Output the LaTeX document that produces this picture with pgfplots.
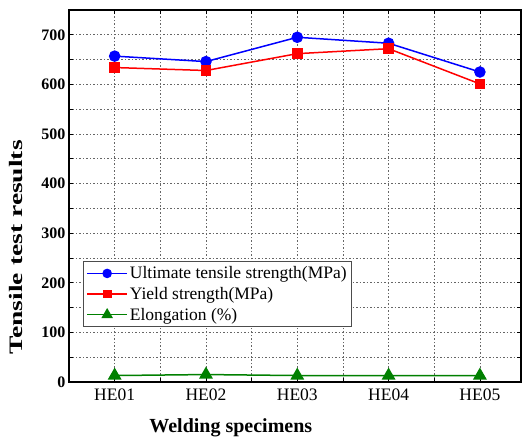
\documentclass[border=0pt]{standalone}
\usepackage{pgfplots}
\pgfplotsset{compat=1.18}
\usepackage{fontspec}
\setmainfont{Liberation Serif}
\definecolor{elgreen}{RGB}{0,128,0}
\begin{document}
\begin{tikzpicture}
\path[use as bounding box] (-69pt,-56pt) rectangle (454pt,382pt);
\begin{axis}[
  at={(0,0)}, anchor=south west,
  width=452pt, height=372pt, scale only axis,
  xmin=0.5, xmax=5.45, ymin=0, ymax=750,
  xtick={1,2,3,4,5},
  xticklabels={HE01,HE02,HE03,HE04,HE05},
  minor xtick={1.5,2.5,3.5,4.5},
  ytick={0,100,...,700},
  minor ytick={50,150,...,750},
  grid=both,
  major grid style={black!60, dash pattern=on 1.5pt off 2pt, line width=0.8pt},
  minor grid style={black!60, dash pattern=on 1.5pt off 2pt, line width=0.8pt},
  axis line style={line width=1.6pt},
  tick style={black, line width=0.8pt},
  tick align=inside,
  major tick length=4pt, minor tick length=4pt,
  xticklabel style={font=\fontsize{17.5}{19}\selectfont, yshift=-3pt},
  yticklabel style={font=\bfseries\fontsize{16}{18}\selectfont},
  /pgf/number format/assume math mode=true,
  xlabel={Welding specimens},
  ylabel={Tensile test results},
  xlabel style={font=\bfseries\fontsize{20}{22}\selectfont, at={(axis description cs:0.358,0)}, anchor=center, yshift=-46pt},
  ylabel style={font=\bfseries\fontsize{19}{21}\selectfont, at={(axis description cs:-0.117,0.362)}, anchor=center, xscale=1.45},
  legend style={at={(0.031,0.148)}, anchor=south west, draw=black!70, line width=0.8pt,
    font=\fontsize{17.5}{19}\selectfont, row sep=3pt, inner xsep=3pt, inner ysep=3pt, fill=white,
    legend image code/.code={\draw[mark repeat=2, mark phase=2, mark options={scale=0.8}] plot coordinates {(0pt,0pt) (20pt,0pt) (40pt,0pt)};}},
  legend cell align=left,
]
\addplot[blue, line width=1.5pt, mark=*, mark size=5pt, mark options={solid}] coordinates {(1,657) (2,646) (3,695) (4,683) (5,625)};
\addplot[red, line width=1.5pt, mark=square*, mark size=4.5pt] coordinates {(1,634) (2,628) (3,662) (4,672) (5,601)};
\addplot[elgreen, line width=1.5pt, mark=triangle*, mark size=6.5pt] coordinates {(1,13) (2,15) (3,13) (4,13) (5,13)};
\legend{Ultimate tensile strength(MPa), Yield strength(MPa), Elongation (\%)}
\end{axis}
\end{tikzpicture}
\end{document}
